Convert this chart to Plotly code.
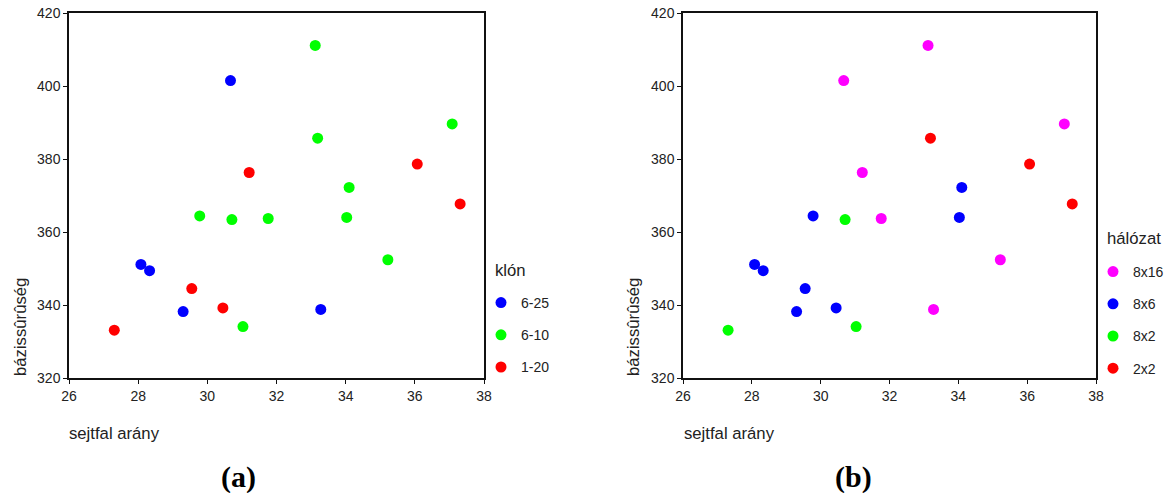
import plotly.graph_objects as go

# Data
sejtfal = [33.12, 33.19, 37.08, 34.10, 34.03, 29.78, 30.71, 31.76, 35.22, 31.03,
           30.67, 33.28, 28.08, 28.33, 29.30,
           31.21, 36.07, 37.31, 29.55, 30.45, 27.31]
bazis = [411.1, 385.7, 389.6, 372.2, 364.0, 364.4, 363.4, 363.7, 352.4, 334.1,
         401.5, 338.8, 351.1, 349.4, 338.2,
         376.3, 378.6, 367.7, 344.5, 339.2, 333.1]
klon = ["6-10"] * 10 + ["6-25"] * 5 + ["1-20"] * 6
halozat = ["8x16", "2x2", "8x16", "8x6", "8x6", "8x6", "8x2", "8x16", "8x16", "8x2",
           "8x16", "8x16", "8x6", "8x6", "8x6",
           "8x16", "2x2", "2x2", "8x6", "8x6", "8x2"]

klon_order = ["6-25", "6-10", "1-20"]
klon_colors = {"6-25": "#0000FF", "6-10": "#00FF00", "1-20": "#FF0000"}
hal_order = ["8x16", "8x6", "8x2", "2x2"]
hal_colors = {"8x16": "#FF00FF", "8x6": "#0000FF", "8x2": "#00FF00", "2x2": "#FF0000"}

W, H = 1172, 493
FONT = "Liberation Sans, Arial, sans-serif"
SERIF = "Liberation Serif, Times New Roman, serif"

fig = go.Figure()

for k in klon_order:
    xs = [x for x, c in zip(sejtfal, klon) if c == k]
    ys = [y for y, c in zip(bazis, klon) if c == k]
    fig.add_trace(go.Scatter(x=xs, y=ys, mode="markers", name=k,
                             marker=dict(color=klon_colors[k], size=11),
                             xaxis="x", yaxis="y", legend="legend",
                             legendgroup="a" + k))

for h in hal_order:
    xs = [x for x, c in zip(sejtfal, halozat) if c == h]
    ys = [y for y, c in zip(bazis, halozat) if c == h]
    fig.add_trace(go.Scatter(x=xs, y=ys, mode="markers", name=h,
                             marker=dict(color=hal_colors[h], size=11),
                             xaxis="x2", yaxis="y2", legend="legend2",
                             legendgroup="b" + h))

ydom = [1 - 378 / H, 1 - 13 / H]
axis_common = dict(showline=True, linecolor="#111", linewidth=1.5, mirror=True,
                   ticks="outside", ticklen=4, tickcolor="#111", tickwidth=1,
                   showgrid=False, zeroline=False, automargin=False,
                   tickfont=dict(family=FONT, size=14, color="#222"))

legend_common = dict(xanchor="left", yanchor="top",
                     font=dict(size=14, family=FONT, color="#222"),
                     tracegroupgap=11, bgcolor="rgba(0,0,0,0)")

fig.update_layout(
    width=W, height=H,
    margin=dict(l=0, r=0, t=0, b=0, autoexpand=False),
    paper_bgcolor="white", plot_bgcolor="white",
    font=dict(family=FONT, color="#222"),
    xaxis=dict(domain=[69 / W, 484 / W], range=[26, 38], dtick=2, anchor="y", **axis_common),
    yaxis=dict(domain=ydom, range=[320, 420], dtick=20, anchor="x", **axis_common),
    xaxis2=dict(domain=[683 / W, 1096 / W], range=[26, 38], dtick=2, anchor="y2", **axis_common),
    yaxis2=dict(domain=ydom, range=[320, 420], dtick=20, anchor="x2", **axis_common),
    legend=dict(x=481 / W, y=1 - 287 / H, **legend_common),
    legend2=dict(x=1093 / W, y=1 - 256 / H, **legend_common),
    showlegend=True,
)

annots = [
    dict(text="bázissûrûség", x=20 / W, y=1 - 378 / H, xanchor="center", yanchor="bottom",
         textangle=-90, font=dict(size=16.7, family=FONT, color="#222")),
    dict(text="bázissûrûség", x=633 / W, y=1 - 378 / H, xanchor="center", yanchor="bottom",
         textangle=-90, font=dict(size=16.7, family=FONT, color="#222")),
    dict(text="sejtfal arány", x=67 / W, y=1 - 433 / H, xanchor="left", yanchor="middle",
         font=dict(size=16.7, family=FONT, color="#222")),
    dict(text="sejtfal arány", x=682 / W, y=1 - 433 / H, xanchor="left", yanchor="middle",
         font=dict(size=16.7, family=FONT, color="#222")),
    dict(text="klón", x=493 / W, y=1 - 270 / H, xanchor="left", yanchor="middle",
         font=dict(size=16.7, family=FONT, color="#222")),
    dict(text="hálózat", x=1105 / W, y=1 - 238 / H, xanchor="left", yanchor="middle",
         font=dict(size=16.7, family=FONT, color="#222")),
    dict(text="<b>(a)</b>", x=238 / W, y=1 - 477 / H, xanchor="center", yanchor="middle",
         font=dict(size=30, family=SERIF, color="#000")),
    dict(text="<b>(b)</b>", x=853 / W, y=1 - 477 / H, xanchor="center", yanchor="middle",
         font=dict(size=30, family=SERIF, color="#000")),
]
for a in annots:
    a.update(xref="paper", yref="paper", showarrow=False)
fig.update_layout(annotations=annots)

fig.write_html("out.html")
